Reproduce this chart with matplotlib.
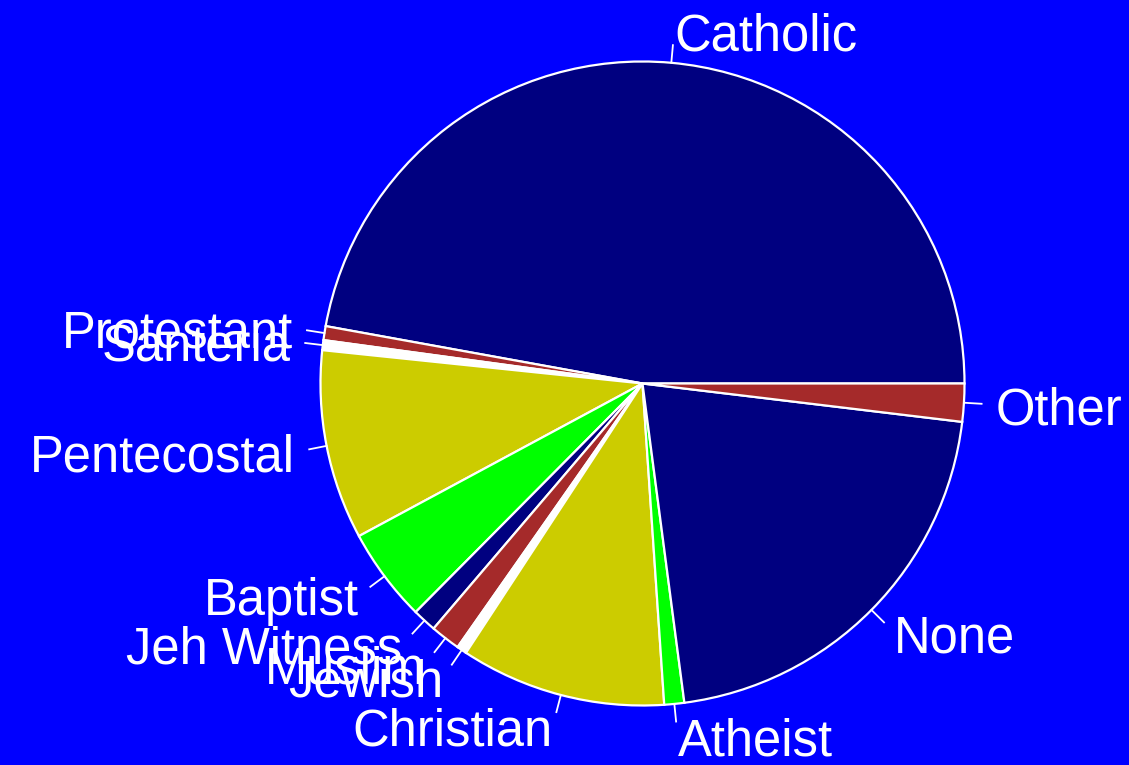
import numpy as np
import matplotlib
matplotlib.use("Agg")
import matplotlib.pyplot as plt

# religious affiliation shares (percent)
religions = ['Catholic', 'Protestant', 'Santeria', 'Pentecostal', 'Baptist',
             'Jeh Witness', 'Muslim', 'Jewish', 'Christian', 'Atheist',
             'None', 'Other']
shares = [47.1, 0.7, 0.5, 9.5, 4.7, 1.2, 1.5, 0.5, 10.3, 1.0, 21.0, 1.9]
palette = ['#000080', '#a52a2a', '#ffffff', '#cccc00', '#00ff00']

W, H = 1129, 765
cx, cy, rad = 642.5, 383.5, 322.0

fig = plt.figure(figsize=(W / 100, H / 100), dpi=100, facecolor='#0000ff')
ax = fig.add_axes([0, 0, 1, 1])
ax.set_facecolor('#0000ff')

colors = [palette[i % len(palette)] for i in range(len(shares))]
wedges, texts = ax.pie(shares, labels=religions, colors=colors, startangle=0,
                       counterclock=True, labeldistance=1.1,
                       wedgeprops=dict(edgecolor='white', linewidth=1.6),
                       textprops=dict(color='white', family='Liberation Sans',
                                      fontsize=36.5))

# nudge labels down a little
for t in texts:
    x, y = t.get_position()
    t.set_position((x, y - 6 / rad))

# short leader ticks at each wedge midpoint
for w in wedges:
    mid = np.deg2rad((w.theta1 + w.theta2) / 2)
    ax.plot([np.cos(mid), 1.055 * np.cos(mid)],
            [np.sin(mid), 1.055 * np.sin(mid)], color='white', lw=1.3)

ax.set_aspect('auto')
ax.set_xlim(-cx / rad, (W - cx) / rad)
ax.set_ylim(-(H - cy) / rad, cy / rad)
ax.axis('off')

fig.savefig('out.png', dpi=100, facecolor=fig.get_facecolor())
